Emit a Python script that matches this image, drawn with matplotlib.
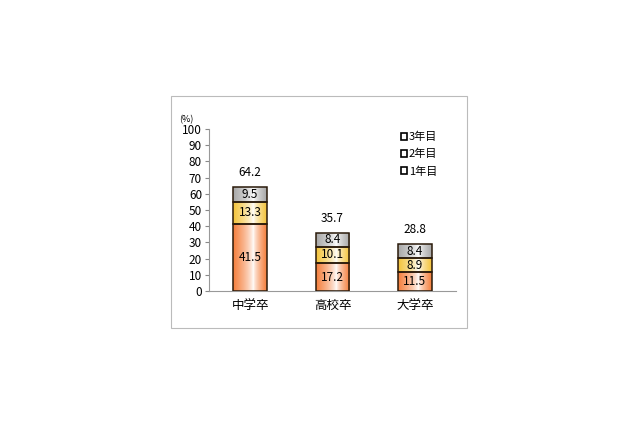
import matplotlib
matplotlib.use("Agg")
import matplotlib.pyplot as plt
import numpy as np
from matplotlib.patches import Rectangle
from matplotlib.colors import LinearSegmentedColormap

plt.rcParams['font.family'] = ['Noto Sans CJK JP', 'DejaVu Sans']

categories = ['中学卒', '高校卒', '大学卒']
year1 = [41.5, 17.2, 11.5]
year2 = [13.3, 10.1, 8.9]
year3 = [9.5, 8.4, 8.4]
totals = [64.2, 35.7, 28.8]
series_labels = ['1年目', '2年目', '3年目']
edge_colors = ['#F5803E', '#F4C43C', '#A8A8A8']

fig = plt.figure(figsize=(6.4, 4.26), dpi=100)
fig.patch.set_facecolor('white')
fig.patches.append(Rectangle((171/640, 1-328/426), (467-171)/640, (328-96)/426,
                             transform=fig.transFigure, fill=False,
                             edgecolor='#BBBBBB', linewidth=0.8))
ax = fig.add_axes([209/640, 1-291/426, (456-209)/640, (291-129)/426])

width = 0.41
x = np.arange(len(categories))
t = np.linspace(0, 1, 64)
grad = np.where(t < 0.6, (0.6 - t) / 0.6, (t - 0.6) / 0.4)[None, :]
series = [year1, year2, year3]
bottoms = np.zeros(len(categories))
for vals, col, lab in zip(series, edge_colors, series_labels):
    cmap = LinearSegmentedColormap.from_list('g', ['#FFFFFF', col])
    bars = ax.bar(x, vals, width, bottom=bottoms, facecolor='none',
                  edgecolor='#2A1A0A', linewidth=1.1, zorder=3, label=lab)
    for b, v, bt in zip(bars, vals, bottoms):
        im = ax.imshow(grad ** 0.7, cmap=cmap, aspect='auto', zorder=2,
                       extent=[b.get_x(), b.get_x() + b.get_width(), bt, bt + v],
                       vmin=0, vmax=1)
        im.set_clip_path(b)
        ax.text(b.get_x() + b.get_width() / 2, bt + v / 2, f'{v:.1f}',
                ha='center', va='center', fontsize=8.5, zorder=4)
    bottoms = bottoms + np.array(vals)

for xi, tt in zip(x, totals):
    ax.text(xi, tt + 5, f'{tt:.1f}', ha='center', va='bottom', fontsize=8.5)

ax.set_xlim(-0.5, 2.5)
ax.set_ylim(0, 100)
ax.set_yticks(range(0, 101, 10))
ax.set_xticks(x)
ax.set_xticklabels(categories, fontsize=9)
ax.tick_params(axis='y', labelsize=8.5, length=3, color='#888888', pad=2)
ax.tick_params(axis='x', length=0, pad=6)
for s in ['top', 'right']:
    ax.spines[s].set_visible(False)
for s in ['left', 'bottom']:
    ax.spines[s].set_color('#999999')
    ax.spines[s].set_linewidth(0.8)
ax.text(-0.09, 1.03, '(%)', transform=ax.transAxes, fontsize=6.5, ha='center', va='bottom')

handles = [Rectangle((0, 0), 1, 1, facecolor='white', edgecolor='black', linewidth=1.2) for _ in range(3)]
ax.legend(handles, ['3年目', '2年目', '1年目'], loc='upper right', bbox_to_anchor=(0.965, 1.045),
          frameon=False, fontsize=8, handlelength=0.55, handleheight=0.55,
          handletextpad=0.2, labelspacing=0.62)

fig.savefig('out.png', dpi=100)
